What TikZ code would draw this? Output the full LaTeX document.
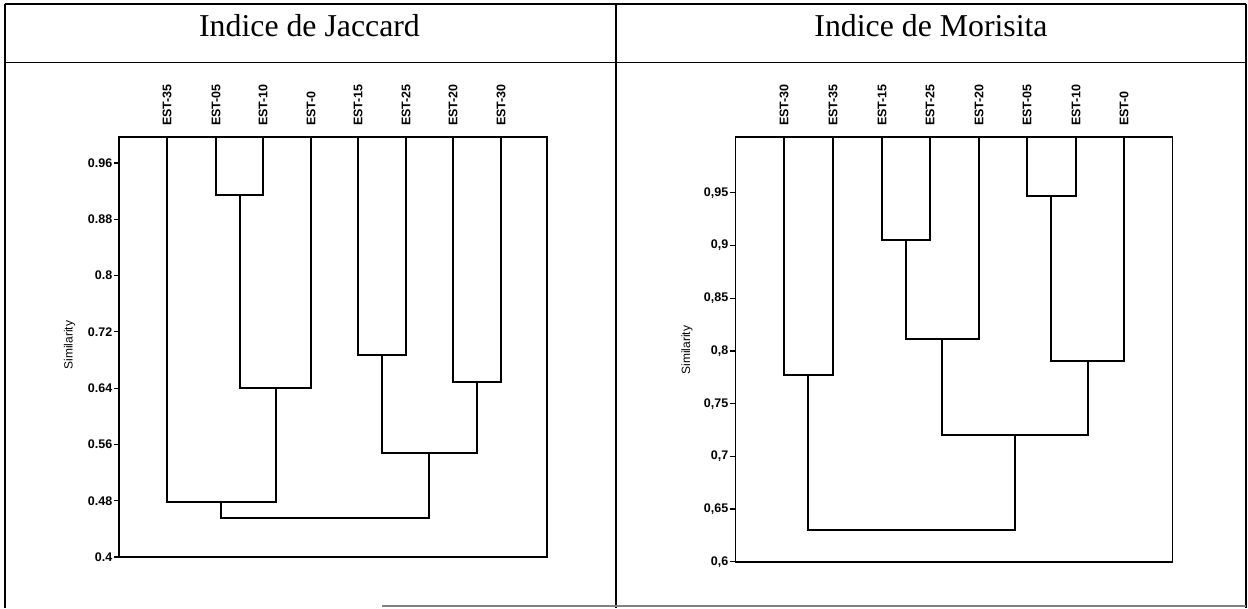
\documentclass[tikz,border=0pt]{standalone}
\usepackage{fontspec}
\setmainfont{Liberation Serif}
\newfontfamily\arial{Liberation Sans}
% similarity -> vertical position
\newcommand{\jy}[1]{557-(#1-0.4)*703.5}
\newcommand{\my}[1]{561.7-(#1-0.6)*1054}

\begin{document}
\begin{tikzpicture}[x=1pt, y=-1pt,
    title/.style = {font=\fontsize{31.8}{34}\selectfont, anchor=base, inner sep=0pt},
    leaf/.style = {font=\arial\bfseries\fontsize{12.5}{13}\selectfont, rotate=90, anchor=west, inner sep=0pt},
    tick/.style = {font=\arial\bfseries\fontsize{12.5}{13}\selectfont, anchor=east, inner sep=0pt},
    axis/.style = {font=\arial\fontsize{12}{12}\selectfont, rotate=90, inner sep=0pt},
    frame/.style = {line width=1.6pt},
    link/.style = {line width=2pt},
    grid/.style = {line width=1.1pt}]
  \useasboundingbox (0,0) rectangle (1248,608);

  % table
  \draw[grid] (5,4) -- (1246,4);
  \draw[grid] (5,62.5) -- (1246,62.5);
  \draw[grid] (5,4) -- (5,608);
  \draw[grid] (616,4) -- (616,608);
  \draw[grid] (1246,4) -- (1246,608);
  \draw[grid, gray] (382,606) -- (1246,606);
  \node[title] (tj) at (309.5,36) {Indice de Jaccard};
  \node[title] (tm) at (931,36) {Indice de Morisita};

  % Jaccard
  \draw[frame] (119,137) rectangle (547,557);
  \foreach \s [count=\i] in {0.4,0.48,0.56,0.64,0.72,0.8,0.88,0.96} {
    \draw[line width=1.2pt] (119,{\jy{\s}}) -- (114,{\jy{\s}});
    \node[tick] (jt\i) at (112.5,{\jy{\s}}) {\s};
  }
  \node[axis] (jax) at (69.5,345) {Similarity};
  \foreach \n/\x in {35/167, 05/216, 10/263, 0/311, 15/358, 25/406, 20/453, 30/501} {
    \node[leaf] (jl\n) at (\x,126) {EST-\n};
    \coordinate (j\n) at (\x,137);
  }
  \coordinate (ja) at (240,{\jy{0.915}});
  \coordinate (jb) at (276,{\jy{0.64}});
  \coordinate (jc) at (221,{\jy{0.478}});
  \coordinate (jd) at (382,{\jy{0.687}});
  \coordinate (je) at (477,{\jy{0.649}});
  \coordinate (jf) at (429,{\jy{0.548}});
  \coordinate (jg) at (325,{\jy{0.455}});
  \draw[link] (j05) |- (ja) -| (j10);
  \draw[link] (ja) |- (jb) -| (j0);
  \draw[link] (j35) |- (jc) -| (jb);
  \draw[link] (j15) |- (jd) -| (j25);
  \draw[link] (j20) |- (je) -| (j30);
  \draw[link] (jd) |- (jf) -| (je);
  \draw[link] (jc) |- (jg) -| (jf);

  % Morisita
  \draw[frame] (735.3,137) rectangle (1172.5,562);
  \foreach \s/\t [count=\i] in {0.6/{0,6}, 0.65/{0,65}, 0.7/{0,7}, 0.75/{0,75}, 0.8/{0,8}, 0.85/{0,85}, 0.9/{0,9}, 0.95/{0,95}} {
    \draw[line width=1.2pt] (735.3,{\my{\s}}) -- (730.3,{\my{\s}});
    \node[tick] (mt\i) at (728.5,{\my{\s}}) {\t};
  }
  \node[axis] (max) at (687,350) {Similarity};
  \foreach \n/\x in {30/784, 35/833, 15/882, 25/930, 20/979, 05/1027, 10/1076, 0/1124} {
    \node[leaf] (ml\n) at (\x,126) {EST-\n};
    \coordinate (m\n) at (\x,137);
  }
  \coordinate (mh) at (808,{\my{0.777}});
  \coordinate (mi) at (906,{\my{0.905}});
  \coordinate (mj) at (942,{\my{0.811}});
  \coordinate (mk) at (1051,{\my{0.947}});
  \coordinate (ml) at (1088,{\my{0.79}});
  \coordinate (mm) at (1015,{\my{0.72}});
  \coordinate (mn) at (912,{\my{0.63}});
  \draw[link] (m30) |- (mh) -| (m35);
  \draw[link] (m15) |- (mi) -| (m25);
  \draw[link] (mi) |- (mj) -| (m20);
  \draw[link] (m05) |- (mk) -| (m10);
  \draw[link] (mk) |- (ml) -| (m0);
  \draw[link] (mj) |- (mm) -| (ml);
  \draw[link] (mh) |- (mn) -| (mm);
\end{tikzpicture}
\end{document}
